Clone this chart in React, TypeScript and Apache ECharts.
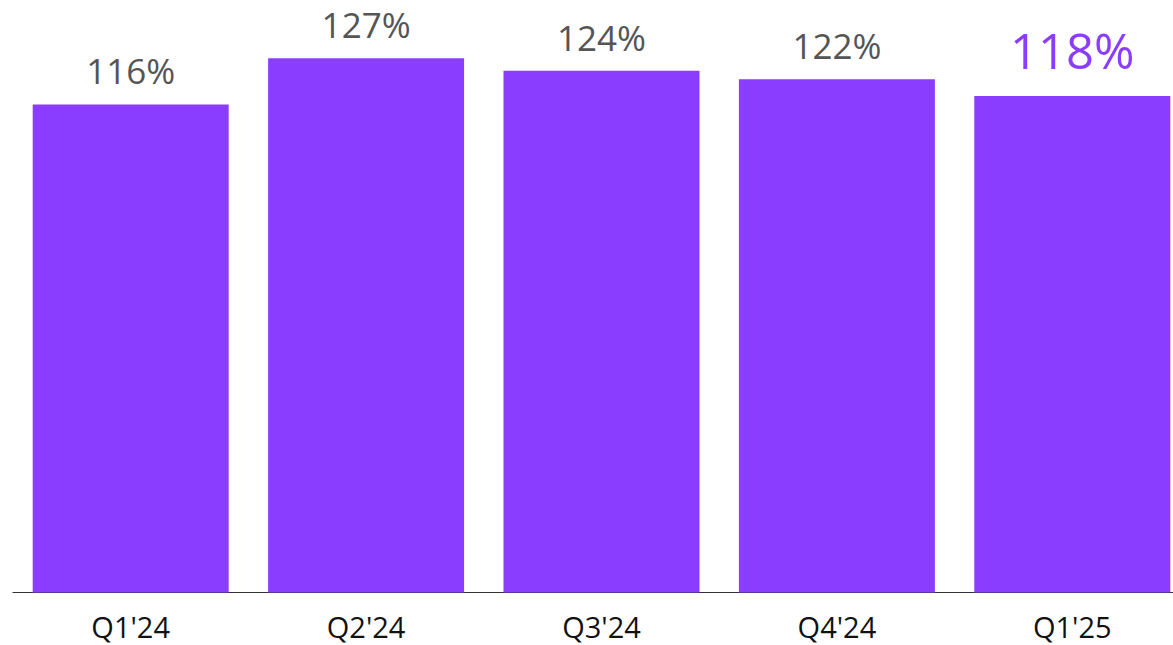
import React, { useEffect, useRef } from "react";
import * as echarts from "echarts";

const categories = ["Q1'24", "Q2'24", "Q3'24", "Q4'24", "Q1'25"];
const values = [116, 127, 124, 122, 118];

const PURPLE = "#8B3DFF";
const FONT = "'Open Sans', 'Noto Sans', sans-serif";

export default function App() {
  const ref = useRef<HTMLDivElement>(null);
  useEffect(() => {
    if (!ref.current) return;
    const chart = echarts.init(ref.current, undefined, { renderer: "svg" });
    const last = values.length - 1;
    chart.setOption({
      animation: false,
      backgroundColor: "#ffffff",
      grid: { left: 13, right: 0, top: 3.5, bottom: 52.5, containLabel: false },
      xAxis: {
        type: "category",
        data: categories,
        axisLine: { show: true, lineStyle: { color: "#333333", width: 1.2 } },
        axisTick: { show: false },
        axisLabel: {
          color: "#111111",
          fontSize: 29,
          fontFamily: FONT,
          margin: 19,
        },
      },
      yAxis: {
        type: "value",
        min: 0,
        max: 140,
        show: false,
        splitLine: { show: false },
      },
      series: [
        {
          type: "bar",
          barWidth: 196,
          data: values.map((v, i) =>
            i === last
              ? {
                  value: v,
                  label: {
                    color: PURPLE,
                    fontSize: 49,
                    distance: 22,
                  },
                }
              : v
          ),
          itemStyle: { color: PURPLE },
          label: {
            show: true,
            position: "top",
            formatter: "{c}%",
            color: "#555555",
            fontSize: 35,
            fontFamily: FONT,
            distance: 16,
          },
        },
      ],
    });
    return () => chart.dispose();
  }, []);
  return (
    <div
      style={{
        position: "fixed",
        left: 0,
        top: 0,
        width: 1173,
        height: 645,
        overflow: "hidden",
        background: "#ffffff",
      }}
    >
      <div ref={ref} style={{ width: 1190, height: 645 }} />
    </div>
  );
}
